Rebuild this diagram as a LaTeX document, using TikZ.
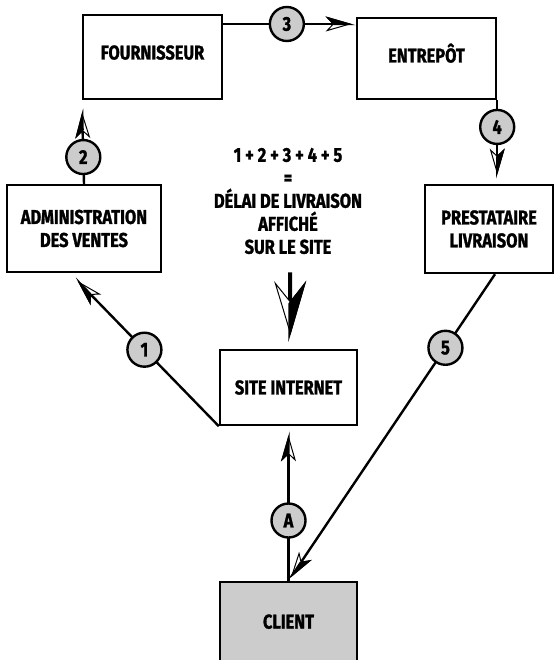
\documentclass[tikz,border=0pt]{standalone}
\usepackage{fontspec}
\setmainfont{Fira Sans}[FakeStretch=0.82, BoldFeatures={FakeBold=1.3}]
\usetikzlibrary{arrows.meta,calc}

\tikzset{
  box/.style={draw, line width=2.4pt, inner sep=0pt, align=center,
    font=\bfseries\fontsize{20}{23}\selectfont},
  num/.style={circle, draw, line width=2.4pt, fill=gray!40, minimum size=34pt,
    inner sep=0pt, font=\bfseries\fontsize{20}{20}\selectfont},
  flow/.style={line width=2.4pt,
    -{Stealth[fill=white, line width=1pt, length=26pt, width=15pt, inset=7pt, sep=-26pt]
      Stealth[harpoon, length=26pt, width=15pt, inset=7pt]}},
  bigflow/.style={line width=4pt,
    -{Stealth[fill=white, line width=1pt, length=54pt, width=32pt, inset=20pt, sep=-54pt]
      Stealth[harpoon, length=54pt, width=32pt, inset=20pt]}},
}

\begin{document}
\begin{tikzpicture}[x=1pt,y=-1pt]
    \useasboundingbox (0,0) rectangle (555,660);
    \clip (0,0) rectangle (555,660);

    % boxes
    \node[box, minimum width=139pt, minimum height=84pt, text height=14pt, text depth=9pt]
        (fournisseur) at (152.5,57) {FOURNISSEUR};
    \node[box, minimum width=139pt, minimum height=81pt, text height=14pt, text depth=6pt]
        (entrepot) at (426.5,58.5) {ENTREPÔT};
    \node[box, minimum width=154pt, minimum height=87pt]
        (admin) at (84,228.5) {ADMINISTRATION\\DES VENTES};
    \node[box, minimum width=128pt, minimum height=88pt]
        (prestataire) at (489,229) {PRESTATAIRE\\LIVRAISON};
    \node[box, minimum width=137pt, minimum height=75pt]
        (site) at (288.5,387.5) {SITE INTERNET};
    \node[box, fill=gray!40, minimum width=137pt, minimum height=86pt, text depth=7pt]
        (client) at (288.5,625) {CLIENT};

    % sum of the delays
    \node[align=center, inner sep=0pt, font=\bfseries\fontsize{20}{23}\selectfont]
        (total) at (288,201) {1 + 2 + 3 + 4 + 5\\=\\DÉLAI DE LIVRAISON\\AFFICHÉ\\SUR LE SITE};
    \draw[bigflow, shorten <=18pt, shorten >=7pt] ([xshift=2pt]total.south) -- ([xshift=2pt]site.north);

    % order path
    \draw[flow, shorten >=7pt] (site.south west) -- node[num, pos=0.5] {1} ([xshift=-14pt]admin.south);
    \draw[flow, shorten >=8pt] (admin.north) -- node[num, pos=0.32] {2} (fournisseur.south west);
    \draw[flow] (fournisseur.east |- 0,24) -- node[num, pos=0.48] {3} (entrepot.west |- 0,24);
    \draw[flow, shorten >=5pt] (entrepot.south east) -- node[num, pos=0.32] {4} (prestataire.north -| entrepot.south east);
    \draw[flow] ([xshift=6pt]prestataire.south) -- node[num, pos=0.24] {5} (client.north);
    \draw[flow, shorten >=5pt] (client.north) -- node[num, pos=0.39] {A} (site.south);
\end{tikzpicture}
\end{document}
